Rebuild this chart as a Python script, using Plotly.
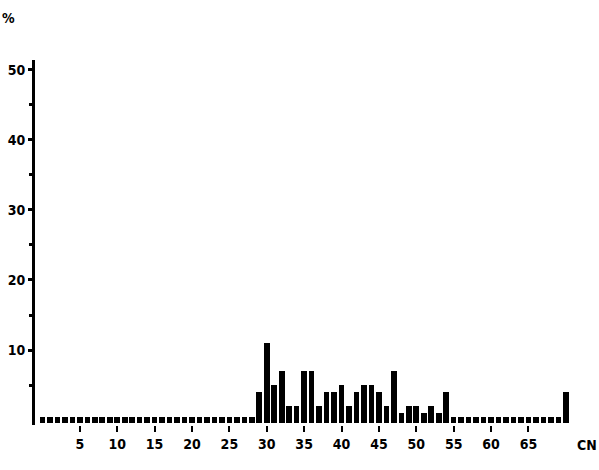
import plotly.graph_objects as go

# Carbon number (CN) categories and relative abundance (%)
cn = list(range(0, 71))
main_cn = [29, 30, 31, 32, 33, 34, 35, 36, 37, 38, 39, 40, 41, 42, 43, 44, 45,
           46, 47, 48, 49, 50, 51, 52, 53, 54, 70]
main_pct = [4, 11, 5, 7, 2, 2, 7, 7, 2, 4, 4, 5, 2, 4, 5, 5, 4,
            2, 7, 1, 2, 2, 1, 2, 1, 4, 4]
trace_pct = 0.4  # tiny trace marks along baseline

lookup = dict(zip(main_cn, main_pct))
values = [lookup.get(c, trace_pct) for c in cn]

x_ticks = [5, 10, 15, 20, 25, 30, 35, 40, 45, 50, 55, 60, 65]
y_ticks = [10, 20, 30, 40, 50]

font_family = "DejaVu Sans Condensed, Liberation Sans Narrow, sans-serif"

fig = go.Figure()
fig.add_trace(go.Bar(
    x=cn, y=[v + 0.4 for v in values], base=-0.4,
    width=0.75, marker=dict(color="black", line=dict(width=0)),
    showlegend=False, hoverinfo="skip",
))

fig.update_layout(
    width=599, height=470,
    margin=dict(l=35, r=19, t=60, b=45, autoexpand=False),
    paper_bgcolor="white", plot_bgcolor="white",
    bargap=0,
    font=dict(family=font_family, color="black", size=13),
    xaxis=dict(
        range=[-1.0, 71.9], tickvals=x_ticks, ticktext=[str(t) for t in x_ticks],
        showgrid=False, zeroline=False, showline=False, automargin=False,
        ticks="outside", ticklen=6, tickwidth=2, tickcolor="black",
        tickfont=dict(family=font_family, size=14, color="black", weight="bold"),
    ),
    yaxis=dict(
        range=[-0.7, 51.4], tickvals=y_ticks, ticktext=[str(t) for t in y_ticks],
        showgrid=False, zeroline=False, showline=True, linecolor="black", linewidth=3,
        automargin=False,
        ticks="outside", ticklen=4, tickwidth=3, tickcolor="black",
        minor=dict(tickvals=[5, 15, 25, 35, 45], ticks="outside", ticklen=3,
                   tickwidth=3, tickcolor="black"),
        tickfont=dict(family=font_family, size=14, color="black", weight="bold"),
    ),
    annotations=[
        dict(text="%", xref="paper", yref="paper", x=-0.0495, y=1.115,
             showarrow=False, font=dict(size=14, family=font_family, weight="bold"),
             xanchor="center", yanchor="middle"),
        dict(text="CN", xref="paper", yref="paper", x=1.013, y=-0.055,
             showarrow=False, font=dict(size=14, family=font_family, weight="bold"),
             xanchor="center", yanchor="middle"),
    ],
)

fig.write_html("out.html", config={"displayModeBar": False},
               post_script="document.body.style.margin='0';document.body.style.overflow='hidden';")
